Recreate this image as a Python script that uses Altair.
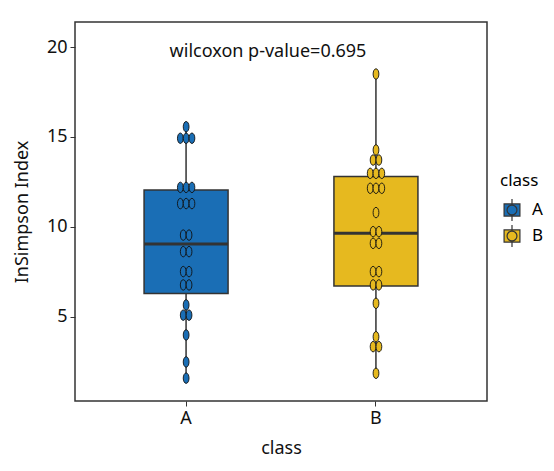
import altair as alt
import pandas as pd

# values (dot rows share the same value)
class_a_values = [15.57, 14.93, 14.93, 14.93, 12.2, 12.2, 12.2, 11.3, 11.3, 11.3,
                  9.55, 9.55, 8.63, 8.63, 7.52, 7.52, 6.78, 6.78, 5.67, 5.1, 5.1,
                  4.0, 2.5, 1.6]
class_b_values = [18.5, 14.28, 13.72, 13.72, 12.98, 12.98, 12.98, 12.15, 12.15, 12.15,
                  10.8, 9.74, 9.74, 9.09, 9.09, 7.52, 7.52, 6.78, 6.78, 5.76,
                  3.9, 3.35, 3.35, 1.87]

classes = ["A", "B"]
box_low = [1.6, 1.87]
box_q1 = [6.3, 6.72]
box_median = [9.06, 9.65]
box_q3 = [12.06, 12.8]
box_high = [15.57, 18.5]

colors = ["#1a6eb5", "#e6b91f"]
p_label = "wilcoxon p-value=0.695"

dot_w = 5.8

dots = pd.DataFrame({
    "class": ["A"] * len(class_a_values) + ["B"] * len(class_b_values),
    "value": class_a_values + class_b_values,
})
dots["k"] = dots.groupby(["class", "value"]).cumcount()
dots["n"] = dots.groupby(["class", "value"])["value"].transform("size")
dots["off"] = (dots["k"] - (dots["n"] - 1) / 2) * dot_w

box = pd.DataFrame({
    "class": classes, "low": box_low, "q1": box_q1,
    "median": box_median, "q3": box_q3, "high": box_high,
})
note_df = pd.DataFrame({"label": [p_label], "y": [19.72]})

ink = "#333333"
font = "Noto Sans"
fs = 18

x = alt.X("class:N", title="class",
          scale=alt.Scale(paddingInner=0, paddingOuter=0.085),
          axis=alt.Axis(labelAngle=0, titlePadding=12))
y_scale = alt.Scale(domain=[0.33, 21.39], nice=False, zero=False)
y = alt.Y("low:Q", title="InSimpson Index", scale=y_scale,
          axis=alt.Axis(values=[5, 10, 15, 20], titlePadding=15))
color = alt.Color(
    "class:N",
    scale=alt.Scale(domain=classes, range=colors),
    legend=alt.Legend(
        title="class", orient="none", legendX=425, legendY=151,
        symbolType="M-0.72,-0.55H0.72V0.55H-0.72Z M0,-1V-0.55 M0,0.55V1 "
                   "M0.45,0A0.45,0.45,0,1,1,-0.45,0A0.45,0.45,0,1,1,0.45,0Z",
        symbolSize=484, symbolStrokeColor=ink, symbolStrokeWidth=1.2,
        symbolOpacity=1, labelFontSize=17, titleFontSize=17,
        titleFontWeight="normal", rowPadding=-2, titlePadding=8, labelOffset=8,
    ),
)

whisker = alt.Chart(box).mark_rule(color=ink, strokeWidth=1.5).encode(
    x=x, y=y, y2="high:Q")
boxes = alt.Chart(box).mark_bar(size=84, stroke=ink, strokeWidth=1.5, opacity=1).encode(
    x=x, y=alt.Y("q1:Q", scale=y_scale), y2="q3:Q", fill=color)
median = alt.Chart(box).mark_tick(size=84, thickness=3, color=ink, opacity=1).encode(
    x=x, y=alt.Y("median:Q", scale=y_scale))
points = alt.Chart(dots).mark_point(
    shape="M0,-1A0.55,1,0,1,1,0,1A0.55,1,0,1,1,0,-1Z",
    size=110, filled=True, stroke="#111111", strokeWidth=0.9, opacity=1,
).encode(
    x=x,
    xOffset=alt.XOffset("off:Q", scale=alt.Scale(domain=[-95, 95], range=[0, 190])),
    y=alt.Y("value:Q", scale=y_scale),
    fill=color,
)
note = alt.Chart(note_df).mark_text(font=font, fontSize=fs, fontWeight="normal",
                                    color="#111111", baseline="middle").encode(
    x=alt.value(193), y=alt.Y("y:Q", scale=y_scale), text="label:N")

chart = (
    alt.layer(whisker, boxes, median, points, note)
    .properties(width=412, height=379,
                autosize=alt.AutoSizeParams(type="none"),
                padding={"left": 67, "top": 14, "right": 59, "bottom": 62})
    .configure_view(stroke=ink, strokeWidth=1.5)
    .configure_axis(grid=False, domain=False, tickColor=ink, tickSize=5,
                    labelFont=font, titleFont=font, labelFontSize=fs,
                    titleFontSize=fs, titleFontWeight="normal",
                    labelColor="#111111", titleColor="#111111", labelPadding=3)
    .configure_legend(labelFont=font, titleFont=font)
)

chart.save("out.html", embed_options={"renderer": "svg", "actions": False})
